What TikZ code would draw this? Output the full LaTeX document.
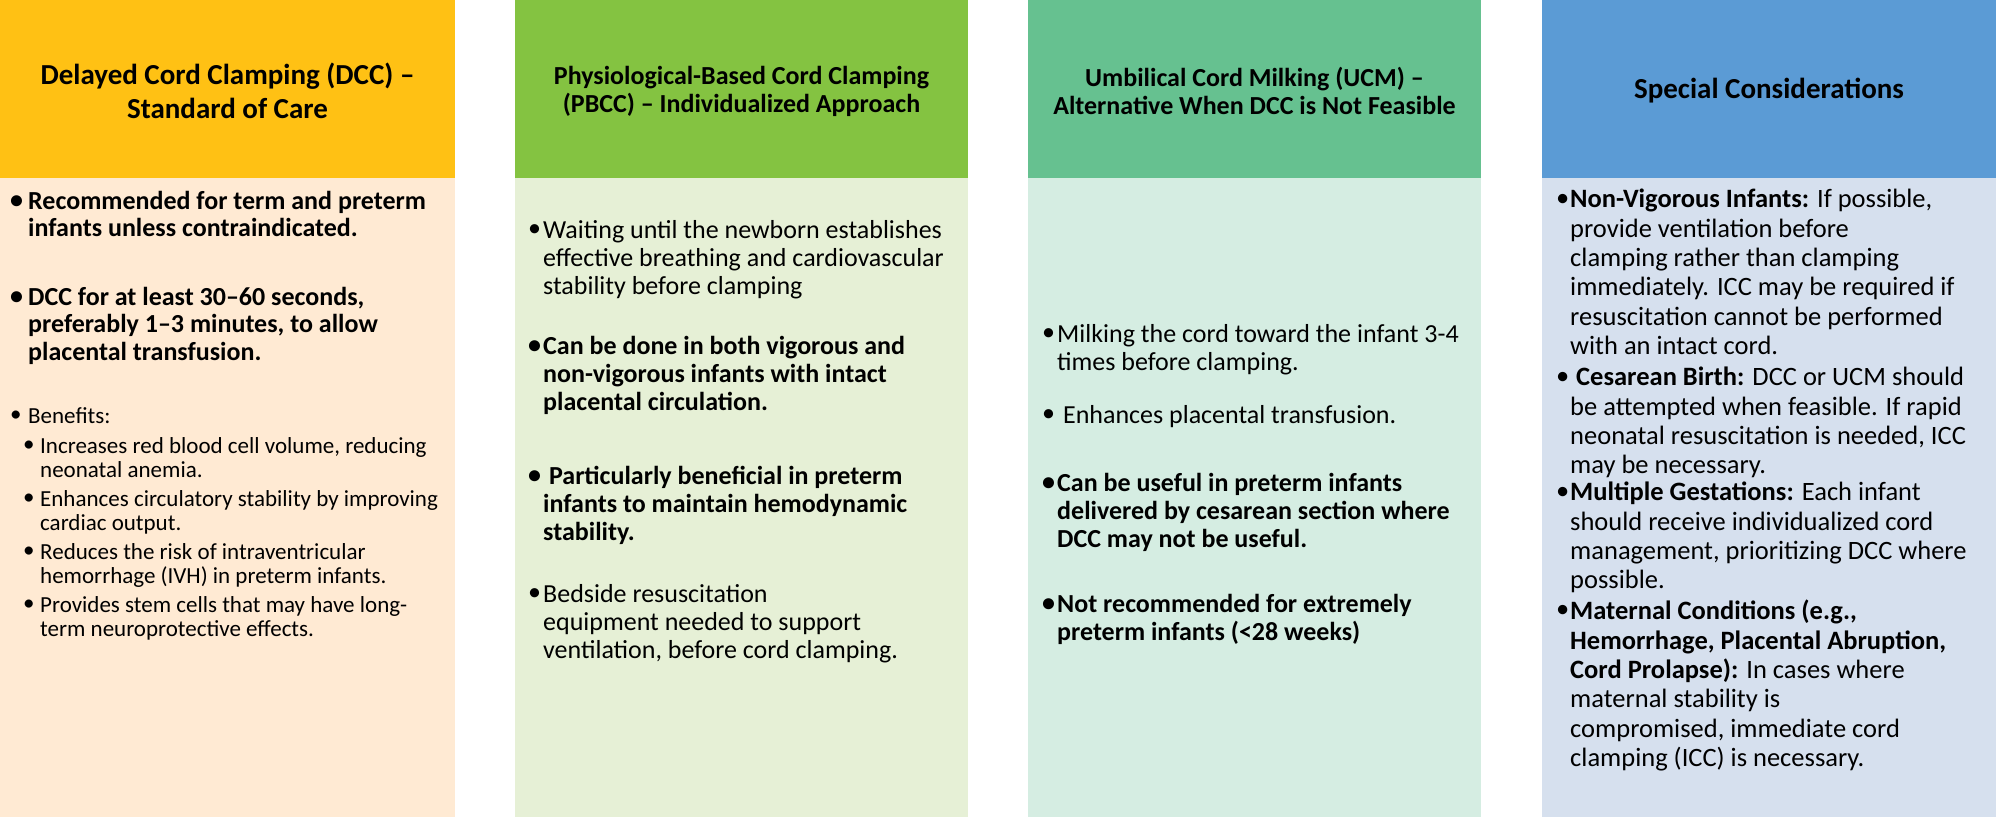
\documentclass[tikz,border=0pt]{standalone}
\usepackage{fontspec}
\setmainfont{Carlito}
\definecolor{hA}{HTML}{FFC114}\definecolor{bA}{HTML}{FFEAD3}
\definecolor{hB}{HTML}{84C341}\definecolor{bB}{HTML}{E6F0D6}
\definecolor{hC}{HTML}{66C190}\definecolor{bC}{HTML}{D5EDE2}
\definecolor{hD}{HTML}{5B9BD5}\definecolor{bD}{HTML}{D6E0EE}
\newcommand{\bl}{\vphantom{Ag}•}
\begin{document}
\begin{tikzpicture}[x=1pt,y=-1pt,
  txt/.style={anchor=north west,inner sep=0pt,align=left,font=\fontsize{26}{28}\selectfont},
  btxt/.style={txt,font=\fontsize{26}{28}\selectfont\bfseries},
  bigtxt/.style={txt,font=\fontsize{26}{27.5}\selectfont\bfseries},
  subtxt/.style={txt,font=\fontsize{23}{24.5}\selectfont},
  dtxt/.style={txt,font=\fontsize{26.5}{29.3}\selectfont},
  hdr/.style={inner sep=0pt,align=center,font=\fontsize{21}{34}\selectfont\bfseries}]
\useasboundingbox (0,0) rectangle (1996,817);
% columns
\foreach \xa/\xb/\h/\b/\n in {0/455/hA/bA/a,515/968/hB/bB/b,1028/1481/hC/bC/c,1542/1996/hD/bD/d}{
  \fill[\b] (\xa,178) rectangle (\xb,817);
  \fill[\h] (\xa,0) rectangle (\xb,178);
  \coordinate (hc\n) at ({(\xa+\xb)/2},91);
}
\node[hdr,font=\fontsize{29}{34}\selectfont\bfseries] (ha) at (hca) {Delayed Cord Clamping (DCC) –\\Standard of Care};
\node[hdr,font=\fontsize{26}{28}\selectfont\bfseries] (hb) at (hcb) {Physiological-Based Cord Clamping\\(PBCC) – Individualized Approach};
\node[hdr,font=\fontsize{26}{28}\selectfont\bfseries] (hc) at (hcc) {Umbilical Cord Milking (UCM) –\\Alternative When DCC is Not Feasible};
\node[hdr,font=\fontsize{29}{34}\selectfont\bfseries] (hd) at (hcd) {Special Considerations};
% column 1
\node[bigtxt] (a1b) at (10,191) {\bl};
\node[bigtxt] (a1) at (28,191) {\vphantom{Ag}Recommended for term and preterm\\infants unless contraindicated.};
\node[bigtxt] (a2b) at (10,287) {\bl};
\node[bigtxt] (a2) at (28,287) {\vphantom{Ag}DCC for at least 30–60 seconds,\\preferably 1–3 minutes, to allow\\placental transfusion.};
\node[subtxt] (a3b) at (10,407) {\bl};
\node[subtxt] (a3) at (28,407) {\vphantom{Ag}Benefits:};
\node[subtxt] (a4b) at (23,437) {\bl};
\node[subtxt] (a4) at (40,437) {\vphantom{Ag}Increases red blood cell volume, reducing\\neonatal anemia.};
\node[subtxt] (a5b) at (23,490) {\bl};
\node[subtxt] (a5) at (40,490) {\vphantom{Ag}Enhances circulatory stability by improving\\cardiac output.};
\node[subtxt] (a6b) at (23,543) {\bl};
\node[subtxt] (a6) at (40,543) {\vphantom{Ag}Reduces the risk of intraventricular\\hemorrhage (IVH) in preterm infants.};
\node[subtxt] (a7b) at (23,596) {\bl};
\node[subtxt] (a7) at (40,596) {\vphantom{Ag}Provides stem cells that may have long-\\term neuroprotective effects.};
% column 2
\node[txt] (b1b) at (528,220) {\bl};
\node[txt] (b1) at (543,220) {\vphantom{Ag}Waiting until the newborn establishes\\effective breathing and cardiovascular\\stability before clamping};
\node[btxt] (b2b) at (528,336) {\bl};
\node[btxt] (b2) at (543,336) {\vphantom{Ag}Can be done in both vigorous and\\non-vigorous infants with intact\\placental circulation.};
\node[btxt] (b3b) at (528,466) {\bl};
\node[btxt] (b3) at (543,466) {\vphantom{Ag} Particularly beneficial in preterm\\infants to maintain hemodynamic\\stability.};
\node[txt] (b4b) at (528,584) {\bl};
\node[txt] (b4) at (543,584) {\vphantom{Ag}Bedside resuscitation\\equipment needed to support\\ventilation, before cord clamping.};
% column 3
\node[txt] (c1b) at (1042,324) {\bl};
\node[txt] (c1) at (1057,324) {\vphantom{Ag}Milking the cord toward the infant  3-4\\times before clamping.};
\node[txt] (c2b) at (1042,405) {\bl};
\node[txt] (c2) at (1057,405) {\vphantom{Ag} Enhances placental transfusion.};
\node[btxt] (c3b) at (1042,473) {\bl};
\node[btxt] (c3) at (1057,473) {\vphantom{Ag}Can be useful in preterm infants\\delivered by cesarean section where\\DCC may not be useful.};
\node[btxt] (c4b) at (1042,594) {\bl};
\node[btxt] (c4) at (1057,594) {\vphantom{Ag}Not recommended for extremely\\preterm infants (<28 weeks)};
% column 4
\node[dtxt] (d1b) at (1556,189) {\bl};
\node[dtxt] (d1) at (1570,189) {\vphantom{Ag}\textbf{Non-Vigorous Infants:} If possible,\\provide ventilation before\\clamping rather than clamping\\immediately. ICC may be required if\\resuscitation cannot be performed\\with an intact cord.};
\node[dtxt] (d2b) at (1556,367) {\bl};
\node[dtxt] (d2) at (1570,367) {\vphantom{Ag}\textbf{ Cesarean Birth:} DCC or UCM should\\be attempted when feasible. If rapid\\neonatal resuscitation is needed, ICC\\may be necessary.};
\node[dtxt] (d3b) at (1556,482) {\bl};
\node[dtxt] (d3) at (1570,482) {\vphantom{Ag}\textbf{Multiple Gestations:} Each infant\\should receive individualized cord\\management, prioritizing DCC where\\possible.};
\node[dtxt] (d4b) at (1556,600) {\bl};
\node[dtxt] (d4) at (1570,600) {\vphantom{Ag}\textbf{Maternal Conditions (e.g.,}\\\textbf{Hemorrhage, Placental Abruption,}\\\textbf{Cord Prolapse):} In cases where\\maternal stability is\\compromised, immediate cord\\clamping (ICC) is necessary.};
\end{tikzpicture}
\end{document}
